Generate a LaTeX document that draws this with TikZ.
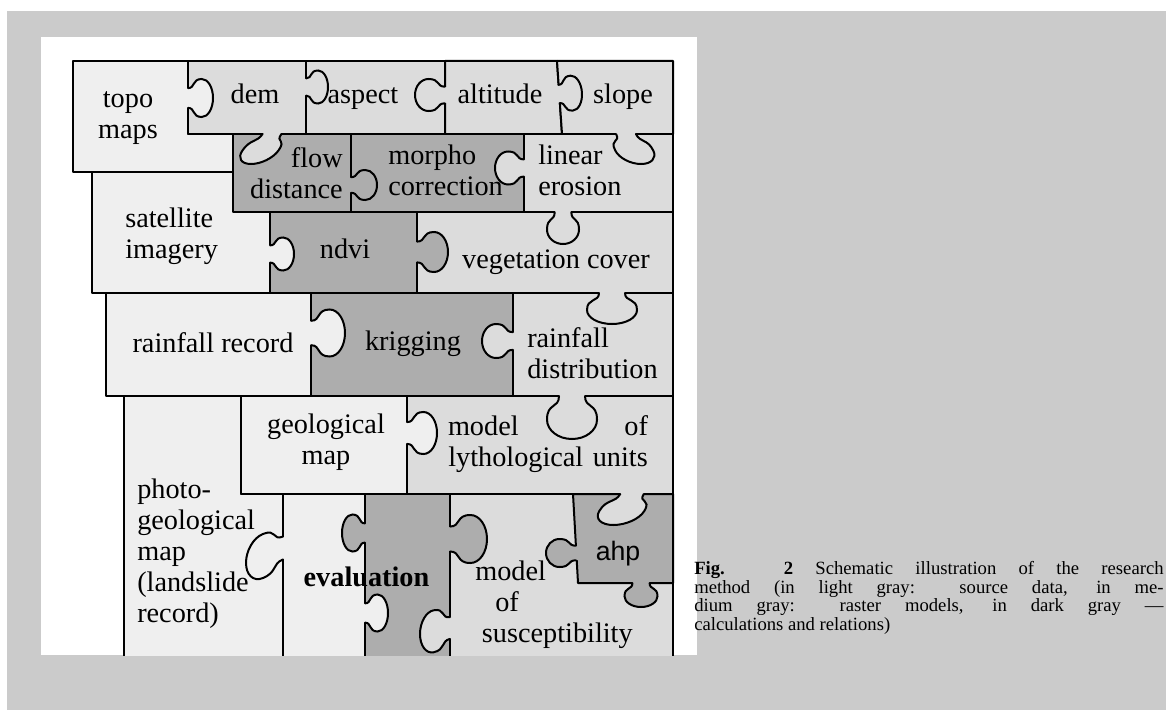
\documentclass[tikz,border=0pt]{standalone}
\usepackage{fontspec}
\setmainfont{Liberation Serif}
\newfontfamily\ahpfont{Liberation Sans}
\definecolor{cLight}{HTML}{EFEFEF}
\definecolor{cMed}{HTML}{DCDCDC}
\definecolor{cDark}{HTML}{ADADAD}
\definecolor{cBg}{HTML}{CBCBCB}
\tikzset{
  pc/.style={draw=black, line width=1.5pt, line join=round},
  lt/.style={pc, fill=cLight},
  md/.style={pc, fill=cMed},
  dk/.style={pc, fill=cDark},
  lbl/.style={font=\fontsize{21.2}{23.3}\selectfont, inner sep=0pt, anchor=north},
}
% knob: #1 base, #2 direction, #3 length, #4 width, #5 slant, #6 colour
\newcommand\pzknob[6]{%
  \begin{scope}[shift={(#1)}, rotate=#2, yslant=#5, xscale=#3, yscale=#4]
    \fill[#6] (0,-0.26) .. controls (0.3,-0.26) and (0.15,-0.5) .. (0.55,-0.5)
      .. controls (0.8,-0.5) and (1,-0.276) .. (1,0)
      .. controls (1,0.276) and (0.8,0.5) .. (0.55,0.5)
      .. controls (0.15,0.5) and (0.3,0.26) .. (0,0.26) -- cycle;
    \draw[#6, line width=2.3pt] (0,-0.26) -- (0,0.26);
    \draw[black, line width=1.5pt, line cap=round] (0,-0.26) .. controls (0.3,-0.26) and (0.15,-0.5) .. (0.55,-0.5)
      .. controls (0.8,-0.5) and (1,-0.276) .. (1,0)
      .. controls (1,0.276) and (0.8,0.5) .. (0.55,0.5)
      .. controls (0.15,0.5) and (0.3,0.26) .. (0,0.26);
  \end{scope}}
\begin{document}
\begin{tikzpicture}[x=0.75pt,y=-0.75pt]
\useasboundingbox (0,0) rectangle (1166,710);
\clip (0,0) rectangle (1166,710);
\fill[white] (0,0) rectangle (1166,710);
\fill[cBg] (7,11) rectangle (1166,710);
\fill[white] (41,37) rectangle (697,655);
\begin{scope}
\clip (41,37) rectangle (697,655);
% pieces
\draw[lt] (73,61) -- (188,61) -- (188,134) -- (233,134) -- (233,172) -- (73,172) -- cycle;
\draw[md] (188,61) rectangle (306,134);
\draw[md] (306,61) rectangle (445,134);
\draw[md] (445,61) -- (557,61) -- (562,134) -- (445,134) -- cycle;
\draw[md] (557,61) -- (673,61) -- (673,134) -- (562,134) -- cycle;
\draw[dk] (233,134) rectangle (351,212);
\draw[dk] (351,134) rectangle (524,212);
\draw[md] (524,134) rectangle (673,212);
\draw[lt] (92,172) -- (233,172) -- (233,212) -- (270,212) -- (270,293) -- (92,293) -- cycle;
\draw[dk] (270,212) rectangle (417,293);
\draw[md] (417,212) rectangle (673,293);
\draw[lt] (106,293) rectangle (311,396);
\draw[dk] (311,293) rectangle (513,396);
\draw[md] (513,293) rectangle (673,396);
\draw[lt] (124,396) -- (241,396) -- (241,494) -- (283,494) -- (283,662) -- (124,662) -- cycle;
\draw[lt] (241,396) rectangle (407,494);
\draw[md] (407,396) rectangle (673,494);
\draw[lt] (283,494) rectangle (365,662);
\draw[dk] (365,494) rectangle (450,662);
\draw[md] (450,494) rectangle (673,662);
\draw[dk] (573,494) -- (673,494) -- (673,583) -- (578,583) -- cycle;
% knobs
\pzknob{188,98}{0}{25}{38}{0}{cLight}
\pzknob{306,87}{0}{22}{33}{0}{cMed}
\pzknob{445,95}{180}{30}{32}{0}{cMed}
\pzknob{559,94}{4}{23}{35}{0}{cMed}
\pzknob{626,134}{270}{30}{38}{0.5}{cMed}
\pzknob{272,134}{270}{30}{36}{-0.7}{cMed}
\pzknob{351,185}{0}{26}{30}{0}{cDark}
\pzknob{524,168}{180}{29}{33}{0}{cMed}
\pzknob{563,212}{270}{32}{32}{0}{cMed}
\pzknob{270,254}{0}{24}{33}{0}{cLight}
\pzknob{417,252}{0}{31}{40}{0}{cDark}
\pzknob{612,293}{270}{31}{50}{0}{cMed}
\pzknob{311,333}{0}{34}{47}{0}{cLight}
\pzknob{513,341}{180}{31}{34}{0}{cMed}
\pzknob{572,396}{270}{43}{50}{0}{cMed}
\pzknob{407,433}{0}{30}{42}{0}{cLight}
\pzknob{283,548}{180}{37}{44}{0.4}{cLight}
\pzknob{365,533}{180}{23}{37}{0}{cDark}
\pzknob{365,613}{0}{23}{37}{0}{cLight}
\pzknob{450,539}{0}{37}{48}{0}{cDark}
\pzknob{450,628}{180}{30}{42}{0.2}{cMed}
\pzknob{632,494}{270}{31}{45}{-0.6}{cMed}
\pzknob{576,553}{180}{30}{28}{0}{cDark}
\pzknob{641,583}{270}{24}{33}{0}{cDark}
\end{scope}
% labels
\node[lbl, align=center] (topo) at (128,85.25) {\strut topo\\maps};
\node[lbl] (dem) at (255,81.25) {\strut dem};
\node[lbl] (aspect) at (363,81.25) {\strut aspect};
\node[lbl] (altitude) at (500,81.25) {\strut altitude};
\node[lbl] (slope) at (623,81.25) {\strut slope};
\node[lbl, anchor=north east, align=right] (flow) at (343,145.25) {\strut flow\\distance};
\node[lbl, anchor=north west, align=left] (morpho) at (388,142.25) {\strut morpho\\correction};
\node[lbl, anchor=north west, align=left] (linear) at (538,142.25) {\strut linear\\erosion};
\node[lbl, anchor=north west, align=left] (sat) at (125,205.25) {\strut satellite\\imagery};
\node[lbl] (ndvi) at (345,236.25) {\strut ndvi};
\node[lbl] (veg) at (556,246.25) {\strut vegetation cover};
\node[lbl] (rrec) at (213,330.25) {\strut rainfall record};
\node[lbl] (krig) at (413,328.25) {\strut krigging};
\node[lbl, anchor=north west, align=left] (rdist) at (527,325.25) {\strut rainfall\\distribution};
\node[lbl, align=center] (geo) at (326,411.25) {\strut geological\\map};
\node[lbl, align=center, text width=150pt] (lyth) at (548,413.25) {\strut model\hfill of\\lythological units};
\node[lbl, anchor=north west, align=left] (photo) at (137,476.25) {\strut photo-\\geological\\map\\(landslide\\record)};
\node[lbl] (eval) at (366.5,564.25) {\strut\textbf{evaluation}};
\node[lbl, anchor=north west, align=left] (susc) at (475,558.25) {\strut model\\\hspace*{15pt}of\\\hspace*{5pt}susceptibility};
\node[inner sep=0pt, anchor=base, font=\ahpfont\fontsize{20}{22}\selectfont] (ahp) at (618,560) {ahp};
% caption
\node[inner sep=0pt, anchor=north west, text width=352pt, align=justify, font=\fontsize{14}{14}\selectfont] (cap) at (694,561)
  {\strut\textbf{Fig. 2} Schematic illustration of the research\linebreak method (in light gray: source data, in me-\linebreak dium gray: raster models, in dark gray —\linebreak calculations and relations)};
\end{tikzpicture}
\end{document}
